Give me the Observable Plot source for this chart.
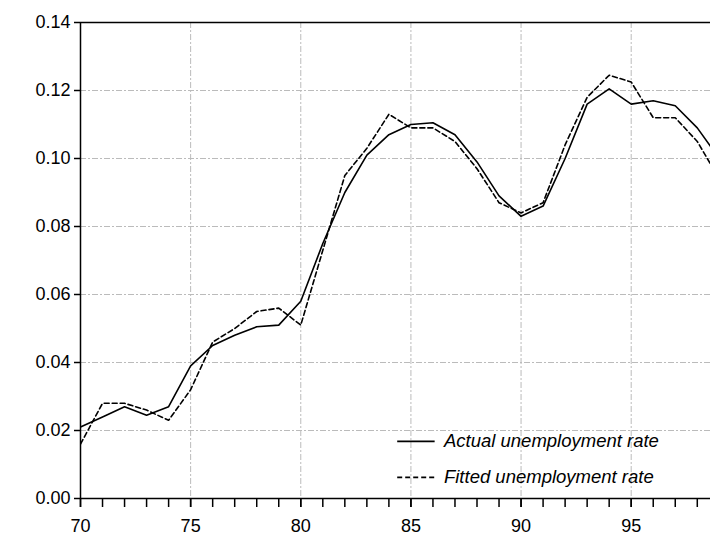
<!DOCTYPE html>
<html><head>
<script src="https://cdn.jsdelivr.net/npm/d3@7"></script>
<script src="https://cdn.jsdelivr.net/npm/@observablehq/plot@0.6"></script>
<style>body{margin:0;background:#fff}</style>
</head><body><div id="chart"></div>
<script>
const years = d3.range(70, 100)
const actual = [0.021,0.024,0.027,0.0245,0.027,0.039,0.045,0.048,0.0505,0.051,0.058,0.075,0.090,0.101,0.107,0.110,0.1105,0.107,0.099,0.089,0.083,0.086,0.100,0.116,0.1205,0.116,0.117,0.1155,0.109,0.100]
const fitted = [0.016,0.028,0.028,0.026,0.023,0.032,0.046,0.050,0.055,0.056,0.051,0.073,0.095,0.103,0.113,0.109,0.109,0.105,0.097,0.087,0.084,0.087,0.104,0.118,0.1245,0.1225,0.112,0.112,0.105,0.094]
const xTicks = [70, 75, 80, 85, 90, 95]
const yTicks = [0, 0.02, 0.04, 0.06, 0.08, 0.10, 0.12, 0.14]
const seriesNames = ["Actual unemployment rate", "Fitted unemployment rate"]

const data = years.map((y, i) => ({year: y, actual: actual[i], fitted: fitted[i]}))

let chart = Plot.plot({
  width: 710, height: 542,
  marginLeft: 80, marginTop: 22, marginBottom: 44, marginRight: 0,
  x: {domain: [70, 98.6], label: null},
  y: {domain: [0, 0.14], label: null},
  style: {fontFamily: "Liberation Sans, Arial", fontSize: 18, color: "#000", background: "#fff"},
  marks: [
    Plot.gridX(xTicks, {stroke: "#bbb", strokeOpacity: 1, strokeDasharray: "6,2,2,2"}),
    Plot.gridY(yTicks, {stroke: "#bbb", strokeOpacity: 1, strokeDasharray: "6,2,2,2"}),
    Plot.ruleY([0.14], {stroke: "#000", strokeWidth: 1.5}),
    Plot.ruleX([70], {stroke: "#000", strokeWidth: 1.5}),
    Plot.axisX(d3.range(70, 99), {tickSize: 9, strokeWidth: 1.5, text: null}),
    Plot.axisX(xTicks, {tickSize: 9, tickPadding: 12, fontSize: 18, strokeWidth: 1.5}),
    Plot.ruleY([0], {stroke: "#000", strokeWidth: 1.5}),
    Plot.axisY(yTicks, {tickSize: 6, tickPadding: 4, fontSize: 18, strokeWidth: 1.5, tickFormat: d3.format(".2f")}),
    Plot.line(data, {x: "year", y: "actual", stroke: "#000", strokeWidth: 1.6, clip: true}),
    Plot.line(data, {x: "year", y: "fitted", stroke: "#000", strokeWidth: 1.6, strokeDasharray: "5,3", clip: true}),
    Plot.ruleY([0.0168], {x1: 84.4, x2: 86.1, stroke: "#000", strokeWidth: 1.6}),
    Plot.ruleY([0.0062], {x1: 84.4, x2: 86.1, stroke: "#000", strokeWidth: 1.6, strokeDasharray: "5,3"}),
    Plot.text(seriesNames, {x: 86.5, y: [0.0168, 0.0062], text: d => d, textAnchor: "start", fontStyle: "italic", fontSize: 18.5})
  ]
})
d3.select('#chart').append(() => chart)
</script></body></html>
